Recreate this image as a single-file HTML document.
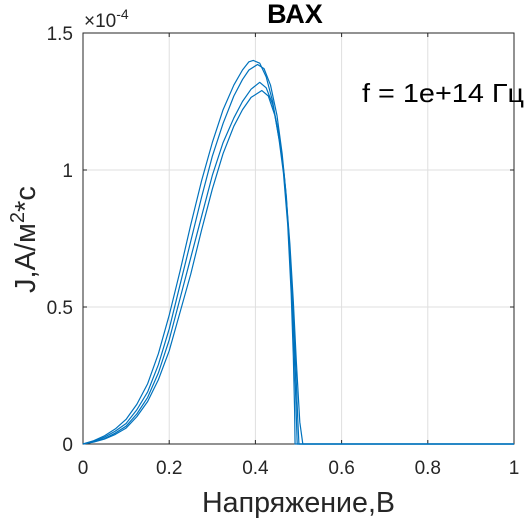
<!DOCTYPE html>
<html><head><meta charset="utf-8"><style>
body{margin:0;background:#fff;}
svg text{font-family:"Liberation Sans",sans-serif;fill:#262626;}
</style></head><body>
<svg id="c" width="529" height="520" style="position:absolute;left:0;top:0">
</svg>
<script>
const xTicks=[0,0.2,0.4,0.6,0.8,1];
const xTickLabels=['0','0.2','0.4','0.6','0.8','1'];
const yTicks=[0,0.5,1,1.5];
const yTickLabels=['0','0.5','1','1.5'];
const xA=[0,.025,.05,.075,.1,.125,.15,.175,.2,.225,.25,.275,.3,.325,.35,.37,.385,.395,.41,.425,.44,.455,.465,.475,.483,.488,.491,.492,1];
const yA=[0,.012,.03,.055,.09,.145,.22,.33,.47,.63,.8,.96,1.1,1.22,1.31,1.365,1.395,1.40,1.39,1.34,1.25,1.11,.99,.8,.55,.32,.12,0,0];
const xB=[0,.025,.05,.075,.1,.125,.15,.175,.2,.225,.25,.275,.3,.325,.35,.37,.385,.405,.42,.435,.45,.462,.472,.482,.489,.494,.497,1];
const yB=[0,.01,.025,.047,.075,.125,.19,.29,.42,.58,.74,.9,1.05,1.17,1.27,1.33,1.365,1.385,1.37,1.31,1.2,1.06,.9,.62,.38,.15,0,0];
const xC=[0,.025,.05,.075,.1,.125,.15,.175,.2,.225,.25,.275,.3,.325,.35,.37,.39,.41,.425,.44,.455,.467,.477,.486,.493,.498,.501,1];
const yC=[0,.008,.02,.04,.065,.11,.17,.26,.38,.53,.68,.83,.98,1.1,1.19,1.25,1.295,1.32,1.3,1.24,1.13,.98,.78,.52,.3,.1,0,0];
const xD=[0,.025,.05,.075,.1,.125,.15,.175,.2,.225,.25,.275,.3,.325,.35,.37,.39,.415,.43,.445,.46,.47,.48,.488,.495,.503,.51,1];
const yD=[0,.007,.018,.035,.058,.1,.155,.235,.34,.48,.62,.78,.93,1.06,1.16,1.22,1.265,1.29,1.27,1.2,1.07,.93,.73,.52,.3,.08,0,0];
const series=[[xA,yA],[xB,yB],[xC,yC],[xD,yD]];
const L=83,R=514,T=33,B=444;
const sx=v=>L+v*(R-L), sy=v=>B-v/1.5*(B-T);
const svg=document.getElementById('c');const NS='http://www.w3.org/2000/svg';
function mk(t,a,txt){const e=document.createElementNS(NS,t);for(const k in a)e.setAttribute(k,a[k]);if(txt!=null)e.textContent=txt;svg.appendChild(e);return e;}
xTicks.forEach((v,i)=>{
 const g=mk('line',{x1:sx(v),x2:sx(v),y1:T,y2:B,stroke:'#dfdfdf','stroke-width':1});
 
 
 const t=mk('text',{x:sx(v),y:B+30,'text-anchor':'middle','font-size':19},xTickLabels[i]);
 
 
});
yTicks.forEach((v,i)=>{
 const g=mk('line',{x1:L,x2:R,y1:sy(v),y2:sy(v),stroke:'#dfdfdf','stroke-width':1});
 
 
 const t=mk('text',{x:L-10,y:sy(v)+7,'text-anchor':'end','font-size':19},yTickLabels[i]);
 
 
});
const ax=mk('path',{d:`M${L},${T}V${B}H${R}V${T}Z`,fill:'none',stroke:'#262626','stroke-width':1});


xTicks.forEach(v=>{mk('line',{x1:sx(v),x2:sx(v),y1:B,y2:B-4,stroke:'#262626'});mk('line',{x1:sx(v),x2:sx(v),y1:T,y2:T+4,stroke:'#262626'});});
yTicks.forEach(v=>{mk('line',{x1:L,x2:L+4,y1:sy(v),y2:sy(v),stroke:'#262626'});mk('line',{x1:R,x2:R-4,y1:sy(v),y2:sy(v),stroke:'#262626'});});
series.forEach((s,i)=>{
 const p=mk('polyline',{points:s[0].map((x,j)=>sx(x)+','+sy(s[1][j])).join(' '),fill:'none',stroke:'#0072bd','stroke-width':1.2,'stroke-linejoin':'round'});
 
 
});
</script>
<svg width="529" height="520" style="position:absolute;left:0;top:0">
<text x="295" y="23" text-anchor="middle" font-size="27" font-weight="bold" style="fill:#000">ВАХ</text>
<text x="84" y="27" font-size="19">×10<tspan dy="-8" font-size="14">-4</tspan></text>
<text x="362" y="102" font-size="26" textLength="162" lengthAdjust="spacingAndGlyphs" style="fill:#000">f = 1e+14 Гц</text>
<text x="202" y="512" font-size="29" textLength="193" lengthAdjust="spacingAndGlyphs">Напряжение,В</text>
<text transform="translate(35,293) rotate(-90)" font-size="29">J,A/м<tspan dy="-11" font-size="20">2</tspan><tspan dy="11">*с</tspan></text>
</svg>
</body></html>
